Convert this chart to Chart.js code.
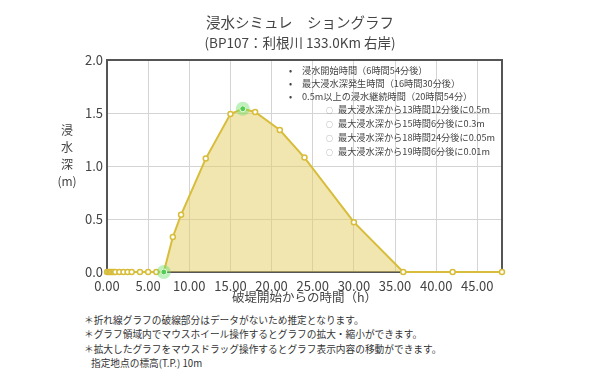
<!DOCTYPE html>
<html>
<head>
<meta charset="utf-8">
<script src="https://cdn.jsdelivr.net/npm/chart.js@4/dist/chart.umd.min.js"></script>
<style>
  body { margin: 0; background: #fff; }
  #wrap { position: relative; width: 600px; height: 384px; overflow: hidden;
          font-family: 'Noto Sans CJK JP', sans-serif; color: #444; }
  #chart { position: absolute; left: 0; top: 0; }
  .title { position: absolute; left: 0; width: 600px; text-align: center; white-space: nowrap; }
  #ylab { position: absolute; left: 52px; width: 30px; top: 121px; text-align: center;
          font-size: 12px; line-height: 17px; }
  #info { position: absolute; left: 287px; top: 64px; font-size: 9.2px; line-height: 13px; white-space: nowrap; }
  #info .b { display: inline-block; width: 15px; text-align: left; padding-left: 2px; box-sizing: border-box; }
  #info .sub { padding-left: 39px; }
  #info .s { display: inline-block; width: 12px; font-size: 7px; color: #888; }
  #notes { position: absolute; left: 84px; top: 313px; font-size: 9.7px; line-height: 14.3px; white-space: nowrap; color: #333; }
</style>
</head>
<body>
<div id="wrap">
  <canvas id="chart" width="600" height="310"></canvas>
  <div class="title" style="top:12px;font-size:14.5px;line-height:20px;">浸水シミュレ　ショングラフ</div>
  <div class="title" style="top:34px;font-size:13.5px;line-height:17px;">(BP107：利根川 133.0Km 右岸)</div>
  <div id="ylab">浸<br>水<br>深<br>(m)</div>
  <div id="info">
    <div><span class="b">•</span>浸水開始時間（6時間54分後）</div>
    <div><span class="b">•</span>最大浸水深発生時間（16時間30分後）</div>
    <div><span class="b">•</span>0.5m以上の浸水継続時間（20時間54分）</div>
    <div class="sub"><span class="s">○</span>最大浸水深から13時間12分後に0.5m</div>
    <div class="sub"><span class="s">○</span>最大浸水深から15時間6分後に0.3m</div>
    <div class="sub"><span class="s">○</span>最大浸水深から18時間24分後に0.05m</div>
    <div class="sub"><span class="s">○</span>最大浸水深から19時間6分後に0.01m</div>
  </div>
  <div id="notes">
    <div>＊折れ線グラフの破線部分はデータがないため推定となります。</div>
    <div>＊グラフ領域内でマウスホイール操作するとグラフの拡大・縮小ができます。</div>
    <div>＊拡大したグラフをマウスドラッグ操作するとグラフ表示内容の移動ができます。</div>
    <div style="padding-left:7px;">指定地点の標高(T.P.) 10m</div>
  </div>
</div>
<script>
// elapsed time since levee breach (h) and inundation depth (m)
const hours = [0, 0.17, 0.33, 0.5, 0.67, 0.83, 1, 1.5, 2, 2.5, 3, 4, 5, 6, 6.9,
               8, 9, 12, 15, 16.5, 18, 21, 24, 30, 36, 42, 48];
const depth = [0, 0, 0, 0, 0, 0, 0, 0, 0, 0, 0, 0, 0, 0, 0,
               0.33, 0.54, 1.07, 1.49, 1.54, 1.51, 1.34, 1.08, 0.47, 0, 0, 0];

// highlighted points: start of inundation, max depth
const markHours = [6.9, 16.5];
const markDepth = [0, 1.54];

const xTickStep = 5;
const yTickStep = 0.5;

const lineColor = '#d8bd3a';
const fontFamily = "'Noto Sans CJK JP', sans-serif";

// frame around the plot area
const framePlugin = {
    id: 'frame',
    beforeDatasetsDraw(chart) {
        const a = chart.chartArea;
        const ctx = chart.ctx;
        ctx.save();
        ctx.strokeStyle = '#555';
        ctx.lineWidth = 2;
        ctx.strokeRect(a.left, a.top, a.right - a.left, a.bottom - a.top);
        ctx.restore();
    }
};

const ctx = document.getElementById('chart').getContext('2d');
new Chart(ctx, {
    type: 'line',
    data: {
        datasets: [{
            data: hours.map((h, i) => ({ x: h, y: depth[i] })),
            borderColor: lineColor,
            backgroundColor: 'rgba(228,204,98,0.5)',
            borderWidth: 2,
            fill: 'origin',
            tension: 0,
            pointRadius: 2.5,
            pointBackgroundColor: '#fff',
            pointBorderColor: lineColor,
            pointBorderWidth: 1.5,
            clip: false,
            order: 3
        }, {
            data: markHours.map((h, i) => ({ x: h, y: markDepth[i] })),
            showLine: false,
            pointRadius: 7,
            pointBackgroundColor: 'rgba(110,225,110,0.45)',
            pointBorderWidth: 0,
            clip: false,
            order: 2
        }, {
            data: markHours.map((h, i) => ({ x: h, y: markDepth[i] })),
            showLine: false,
            pointRadius: 3,
            pointBackgroundColor: '#55cc55',
            pointBorderColor: '#e8ffe8',
            pointBorderWidth: 1,
            clip: false,
            order: 1
        }]
    },
    options: {
        responsive: false,
        animation: false,
        layout: { padding: { left: 67, right: 98, top: 60, bottom: 2 } },
        plugins: {
            legend: { display: false },
            tooltip: { enabled: false }
        },
        scales: {
            x: {
                type: 'linear',
                min: 0,
                max: 48,
                afterFit: s => { s.height = 36; },
                border: { display: false },
                grid: { color: '#d4d4d4', drawTicks: false },
                ticks: {
                    stepSize: xTickStep,
                    includeBounds: false,
                    maxRotation: 0,
                    padding: 6,
                    color: '#444',
                    font: { family: fontFamily, size: 13 },
                    callback: v => v.toFixed(2)
                },
                title: {
                    display: true,
                    text: '破堤開始からの時間（h）',
                    color: '#444',
                    font: { family: fontFamily, size: 12.5 },
                    padding: { top: 0, bottom: 3 }
                }
            },
            y: {
                min: 0,
                max: 2,
                afterFit: s => { s.width = 40; },
                border: { display: false },
                grid: { color: '#d4d4d4', drawTicks: false },
                ticks: {
                    stepSize: yTickStep,
                    padding: 4,
                    color: '#444',
                    font: { family: fontFamily, size: 13 },
                    callback: v => v.toFixed(1)
                }
            }
        }
    },
    plugins: [framePlugin]
});
</script>
</body>
</html>
